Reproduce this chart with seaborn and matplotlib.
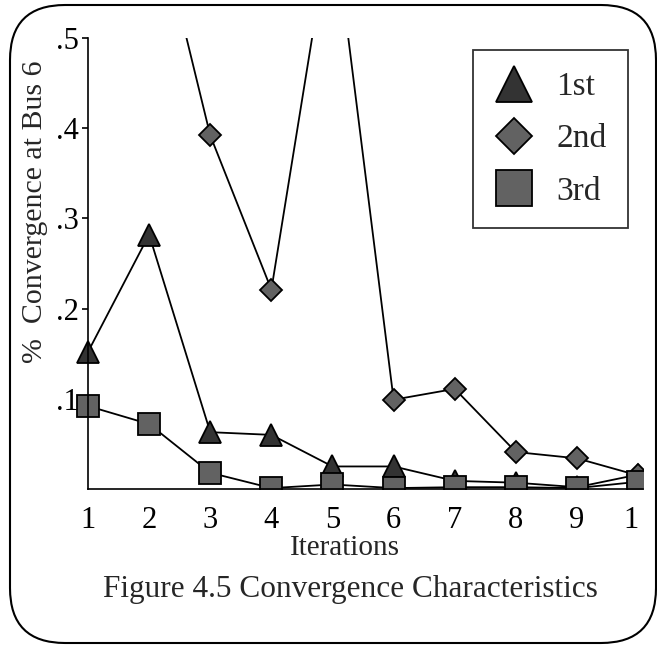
import seaborn as sns
import pandas as pd
from matplotlib import pyplot as plt
from matplotlib.lines import Line2D
from matplotlib.patches import FancyBboxPatch
from matplotlib.transforms import Bbox, TransformedBbox

iterations = [1, 2, 3, 4, 5, 6, 7, 8, 9, 10]
first = [0.152, 0.282, 0.063, 0.060, 0.025, 0.025, 0.009, 0.007, 0.002, 0.016]
second = [0.80, 0.67, 0.392, 0.221, 0.64, 0.099, 0.111, 0.041, 0.034, 0.015]
third = [0.092, 0.072, 0.018, 0.001, 0.005, 0.001, 0.002, 0.002, 0.001, 0.008]
series_names = ['1st', '2nd', '3rd']
y_ticks = [0.1, 0.2, 0.3, 0.4, 0.5]
y_tick_labels = ['.1', '.2', '.3', '.4', '.5']

sns.set_theme(style='white')
plt.rcParams['font.family'] = ['Liberation Serif', 'DejaVu Serif']

fig = plt.figure(figsize=(6.57, 6.45), dpi=100)
ax = fig.add_axes([88 / 657, 1 - 489 / 645, (643 - 88) / 657, (489 - 38) / 645])

data = pd.DataFrame({'it': iterations, '1st': first, '2nd': second, '3rd': third})
styles = {
    '1st': dict(marker='^', markersize=16, markerfacecolor='#333333'),
    '2nd': dict(marker='D', markersize=11.5, markerfacecolor='#626262'),
    '3rd': dict(marker='s', markersize=16, markerfacecolor='#626262'),
}
for name in series_names:
    sns.lineplot(data=data, x='it', y=name, ax=ax, color='black', linewidth=1.3,
                 markeredgecolor='black', markeredgewidth=1.3, **styles[name])

# marks are cut at the bottom, top and right of the plot area but not on the left
mark_clip = TransformedBbox(Bbox([[-0.1, 0], [1, 1]]), ax.transAxes)
for line in ax.lines:
    line.set_clip_box(mark_clip)

ax.set_xlim(1, 10.08)
ax.set_ylim(0, 0.5)
ax.set_xticks(iterations)
ax.set_xticklabels([str(i) for i in iterations])
ax.set_yticks(y_ticks)
ax.set_yticklabels(y_tick_labels)
ax.set_xlabel('')
ax.set_ylabel('')
ax.tick_params(axis='x', length=0, pad=12, labelsize=22, colors='black')
ax.tick_params(axis='y', length=4.5, width=1.2, pad=2, labelsize=22, colors='black',
               direction='out', left=True)
for side in ['top', 'right']:
    ax.spines[side].set_visible(False)
for side in ['left', 'bottom']:
    ax.spines[side].set_color('black')
    ax.spines[side].set_linewidth(1.2)

# the last tick label is cut off in the original
clip = TransformedBbox(Bbox.from_extents(0, 0, 6.39, 6.45), fig.dpi_scale_trans)
last = ax.get_xticklabels()[-1]
last.set_clip_on(True)
last.set_clip_box(clip)

handles = [Line2D([], [], linestyle='none', color='black', markeredgecolor='black',
                  markeredgewidth=1.3,
                  **{**styles[n], 'markersize': styles[n]['markersize'] * 1.6})
           for n in series_names]
leg = fig.legend(handles, series_names, loc='upper right',
                 bbox_to_anchor=(628 / 657, 1 - 50 / 645), fontsize=24,
                 frameon=True, fancybox=False, edgecolor='black',
                 handlelength=1.2, handletextpad=0.65, labelspacing=0.65,
                 borderpad=0.65, borderaxespad=0)
leg.get_frame().set_linewidth(1.3)

fig.text(345 / 657, 1 - 548 / 645, 'Iterations', ha='center', va='center', fontsize=21)
fig.text(35 / 657, 1 - 212 / 645, '%  Convergence at Bus 6', rotation=90,
         ha='center', va='center', fontsize=21.5)
fig.text(350 / 657, 1 - 589 / 645, 'Figure 4.5 Convergence Characteristics',
         ha='center', va='center', fontsize=22.5)

frame = FancyBboxPatch((0.10, 0.02), 6.46, 6.38,
                       boxstyle='round,pad=0,rounding_size=0.55',
                       transform=fig.dpi_scale_trans, fill=False,
                       edgecolor='black', linewidth=1.5)
fig.patches.append(frame)

fig.savefig('out.png', dpi=100)
